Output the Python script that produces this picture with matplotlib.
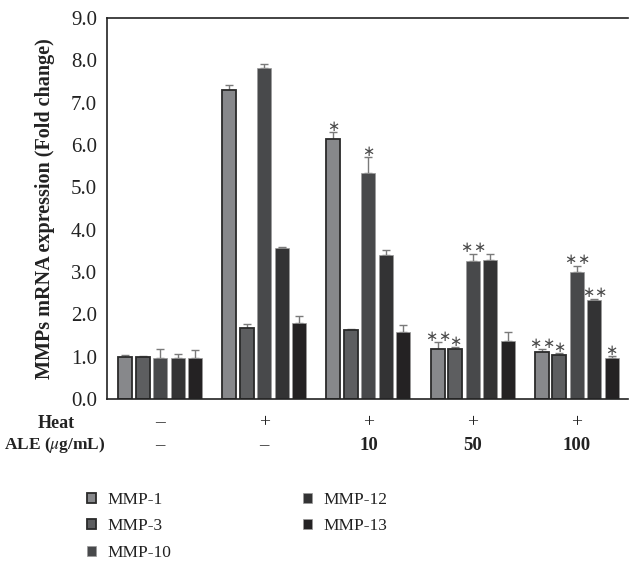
import matplotlib.pyplot as plt
import numpy as np
from matplotlib.patches import Patch

plt.rcParams['font.family'] = ['Liberation Serif', 'DejaVu Serif']
plt.rcParams['mathtext.fontset'] = 'stix'

# groups (Heat / ALE treatment) and genes
heat_labels = ['\u2013', '+', '+', '+', '+']
ale_labels = ['\u2013', '\u2013', '10', '50', '100']
genes = ['MMP-1', 'MMP-3', 'MMP-10', 'MMP-12', 'MMP-13']

# fold change per gene, one value per group
mmp1 = [1.00, 7.30, 6.14, 1.19, 1.10]
mmp3 = [1.00, 1.68, 1.64, 1.17, 1.04]
mmp10 = [0.98, 7.82, 5.34, 3.27, 3.01]
mmp12 = [0.98, 3.56, 3.39, 3.29, 2.34]
mmp13 = [0.98, 1.79, 1.58, 1.38, 0.98]

# upper error (SD)
mmp1_err = [0.03, 0.11, 0.16, 0.15, 0.07]
mmp3_err = [0.02, 0.09, 0.01, 0.05, 0.04]
mmp10_err = [0.19, 0.09, 0.37, 0.16, 0.14]
mmp12_err = [0.08, 0.03, 0.14, 0.14, 0.03]
mmp13_err = [0.18, 0.16, 0.16, 0.20, 0.03]

# significance marks (number of stars)
mmp1_sig = [0, 0, 1, 2, 2]
mmp3_sig = [0, 0, 0, 1, 1]
mmp10_sig = [0, 0, 1, 2, 2]
mmp12_sig = [0, 0, 0, 0, 2]
mmp13_sig = [0, 0, 0, 0, 1]

values = [mmp1, mmp3, mmp10, mmp12, mmp13]
errors = [mmp1_err, mmp3_err, mmp10_err, mmp12_err, mmp13_err]
sigs = [mmp1_sig, mmp3_sig, mmp10_sig, mmp12_sig, mmp13_sig]

colors = ['#87888b', '#5d5e60', '#48494b', '#333334', '#242223']
edges = ['#2a2a2a', '#2a2a2a', '#9a9a9a', '#9a9a9a', '#9a9a9a']
edge_w = [1.3, 1.3, 0.5, 0.5, 0.5]

fig = plt.figure(figsize=(6.29, 5.62), dpi=100)
ax = fig.add_axes([0.170, 0.290, 0.828, 0.678])

x = np.arange(len(heat_labels))
step = 0.168
width = 0.135

for i in range(len(genes)):
    pos = x + (i - 2) * step
    ax.bar(pos, values[i], width, color=colors[i], edgecolor=edges[i],
           linewidth=edge_w[i], zorder=2)
    ax.errorbar(pos, values[i], yerr=[np.zeros(len(x)), errors[i]],
                fmt='none', ecolor='#7a7a7a', elinewidth=1.0, capsize=3,
                capthick=1.0, zorder=1)
    for p, v, e, n in zip(pos, values[i], errors[i], sigs[i]):
        offs = [0] if n == 1 else ([-4.5, 4.5] if n == 2 else [])
        for dx in offs:
            ax.annotate('\u2217', (p, v + e), xytext=(dx, -1),
                        textcoords='offset points', ha='center', va='bottom',
                        fontsize=10.5, color='#4a4a4a', family='DejaVu Sans')

ax.set_xlim(-0.51, 4.49)
ax.set_ylim(0, 9)
ax.set_yticks(np.arange(0, 9.1, 1.0))
ax.set_yticklabels([f'{t:.1f}' for t in np.arange(0, 9.1, 1.0)], fontsize=15)
ax.set_xticks([])
ax.tick_params(axis='y', length=0, pad=7, colors='#222222')
ax.spines['right'].set_visible(False)
for s in ['left', 'top', 'bottom']:
    ax.spines[s].set_color('#222222')
    ax.spines[s].set_linewidth(1.2)

ax.set_ylabel('MMPs mRNA expression (Fold change)', fontsize=14.5,
              fontweight='bold', color='#222222')
ax.yaxis.set_label_coords(-0.10, 0.5)

trans = ax.get_xaxis_transform()
for xi, h, a in zip(x, heat_labels, ale_labels):
    ax.text(xi, -0.063, h, transform=trans, ha='center', va='center',
            fontsize=14, color='#222222')
    ax.text(xi, -0.121, a, transform=trans, ha='center', va='center',
            fontsize=13.5, color='#222222',
            fontweight='normal' if a == '\u2013' else 'bold')

fig.text(56 / 629, 1 - 423 / 562, 'Heat', ha='center', va='center',
         fontsize=13, fontweight='bold', color='#222222')
fig.text(55 / 629, 1 - 445 / 562, 'ALE ($\\mu$g/mL)', ha='center', va='center',
         fontsize=12.5, fontweight='bold', color='#222222')

handles = [Patch(facecolor=colors[i], edgecolor=edges[i], linewidth=edge_w[i])
           for i in range(len(genes))]
fig.legend(handles, genes, ncol=2, loc='upper left',
           bbox_to_anchor=(0.139, 1 - 492 / 562), frameon=False,
           fontsize=12.5, handlelength=0.5, handleheight=0.5,
           handletextpad=0.65, columnspacing=7.6, labelspacing=0.6,
           labelcolor='#222222', borderaxespad=0, borderpad=0)

fig.savefig('out.png', dpi=100)
